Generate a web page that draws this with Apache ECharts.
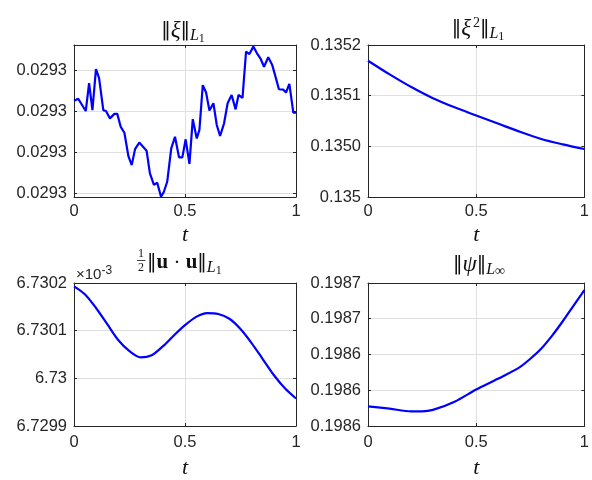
<!DOCTYPE html>
<html><head><meta charset="utf-8">
<script src="https://cdn.jsdelivr.net/npm/echarts@6/dist/echarts.min.js"></script>
<style>html,body{margin:0;padding:0;background:#fff}#c{width:592px;height:480px}</style>
</head><body><div id="c"></div>
<script>
// ---- data ----
const xiT = [0,0.019,0.053,0.068,0.083,0.099,0.113,0.132,0.144,0.162,0.182,0.195,0.21,0.227,0.245,0.26,0.275,0.294,0.327,0.342,0.36,0.375,0.392,0.405,0.42,0.438,0.455,0.473,0.488,0.503,0.52,0.535,0.553,0.565,0.58,0.595,0.61,0.628,0.643,0.658,0.676,0.692,0.71,0.728,0.741,0.759,0.775,0.79,0.808,0.823,0.84,0.856,0.875,0.893,0.907,0.923,0.943,0.955,0.97,0.988,1.0];
const xiV = [0.02930225,0.0293023,0.029302,0.02930268,0.02930202,0.02930302,0.0293028,0.02930202,0.029302,0.02930182,0.02930193,0.02930193,0.02930162,0.02930147,0.0293009,0.02930068,0.02930107,0.02930123,0.02930103,0.02930048,0.0293002,0.02930025,0.02929991,0.02930003,0.02930028,0.02930109,0.02930137,0.02930087,0.02930087,0.02930131,0.02930071,0.0293018,0.02930133,0.02930154,0.02930263,0.02930245,0.02930201,0.02930219,0.02930166,0.02930139,0.0293017,0.02930219,0.02930239,0.02930204,0.02930239,0.02930232,0.02930345,0.02930339,0.02930357,0.02930342,0.02930328,0.02930308,0.02930331,0.02930312,0.02930285,0.02930253,0.02930252,0.02930245,0.02930266,0.02930196,0.02930196];

const xi2T = [0,0.1,0.2,0.3,0.4,0.5,0.6,0.7,0.8,0.9,1];
const xi2V = [0.1351345,0.1351210,0.1351085,0.1350975,0.1350885,0.1350805,0.1350725,0.1350645,0.1350573,0.1350520,0.1350474];

const uuT = [0,0.05,0.1,0.15,0.2,0.25,0.3,0.35,0.4,0.45,0.5,0.55,0.6,0.65,0.7,0.75,0.8,0.85,0.9,0.95,1];
const uuV = [6.730193,6.730176,6.730147,6.7301135,6.73008,6.730057,6.730044,6.7300485,6.730067,6.73009,6.7301115,6.730129,6.730137,6.730135,6.730125,6.7301035,6.730074,6.7300405,6.730007,6.729979,6.7299577];

const psiT = [0,0.1,0.2,0.25,0.3,0.4,0.5,0.6,0.7,0.75,0.8,0.85,0.9,0.95,1];
const psiV = [0.198611,0.1986097,0.1986082,0.1986082,0.198609,0.1986136,0.1986204,0.1986264,0.1986328,0.1986376,0.1986432,0.1986504,0.1986586,0.1986674,0.198676];

const xTicks = [0,0.5,1];
const xTickLabels = ['0','0.5','1'];
const xiTicks = [0.0293,0.029301,0.029302,0.029303];
const xiTickLabels = ['0.0293','0.0293','0.0293','0.0293'];
const xi2Ticks = [0.135,0.13505,0.1351,0.13515];
const xi2TickLabels = ['0.135','0.1350','0.1351','0.1352'];
const uuTicks = [6.7299,6.73,6.7301,6.7302];
const uuTickLabels = ['6.7299','6.73','6.7301','6.7302'];
const psiTicks = [0.1986,0.19862,0.19864,0.19866,0.19868];
const psiTickLabels = ['0.1986','0.1986','0.1986','0.1987','0.1987'];

// ---- layout / style ----
const AX = '#262626', GRID = '#dfdfdf';
const sans = "'Liberation Sans', Arial, sans-serif";
const serif = "'Liberation Serif', 'DejaVu Serif', serif";
const grids = [
  {left:74, top:45, width:222, height:152},
  {left:368, top:45, width:222, height:152},
  {left:74, top:283, width:222, height:151},
  {left:368, top:283, width:222, height:151}
];
const panels = [
  {t:xiT, v:xiV, ticks:xiTicks, labels:xiTickLabels, min:0.0292999024, max:0.02930361, smooth:false},
  {t:xi2T, v:xi2V, ticks:xi2Ticks, labels:xi2TickLabels, min:0.135, max:0.13515, smooth:true},
  {t:uuT, v:uuV, ticks:uuTicks, labels:uuTickLabels, min:6.7299, max:6.7302, smooth:true},
  {t:psiT, v:psiV, ticks:psiTicks, labels:psiTickLabels, min:0.1986, max:0.19868, smooth:true}
];
function lookup(ticks, labels){
  return function(val){
    let bi=0, bd=Infinity;
    ticks.forEach((tk,i)=>{const d=Math.abs(tk-val); if(d<bd){bd=d;bi=i;}});
    return labels[bi];
  };
}
const xAxis=[], yAxis=[], series=[];
panels.forEach((p,i)=>{
  const lower = i>=2;
  const tickStyle = {show:true, inside:true, length:3, lineStyle:{color:AX, width:1}};
  xAxis.push({type:'value', gridIndex:i, min:0, max:1, position:'bottom',
    axisLine:{show:true, onZero:false, lineStyle:{color:AX, width:1}},
    axisTick:Object.assign({customValues:xTicks}, tickStyle),
    axisLabel:{customValues:xTicks, formatter:lookup(xTicks,xTickLabels), color:AX, fontSize:16.5, fontFamily:sans, margin:lower?8:6},
    splitLine:{show:true, lineStyle:{color:GRID, width:1}},
    name:'t', nameLocation:'middle', nameGap:lower?31:27,
    nameTextStyle:{fontFamily:serif, fontStyle:'italic', fontSize:22, color:'#111'}
  });
  xAxis.push({type:'value', gridIndex:i, min:0, max:1, position:'top',
    axisLine:{show:true, onZero:false, lineStyle:{color:AX, width:1}},
    axisTick:Object.assign({customValues:xTicks}, tickStyle),
    axisLabel:{show:false}, splitLine:{show:false}
  });
  yAxis.push({type:'value', gridIndex:i, min:p.min, max:p.max, position:'left',
    axisLine:{show:true, onZero:false, lineStyle:{color:AX, width:1}},
    axisTick:Object.assign({customValues:p.ticks}, tickStyle),
    axisLabel:{customValues:p.ticks, formatter:lookup(p.ticks,p.labels), color:AX, fontSize:16.5, fontFamily:sans, margin:7},
    splitLine:{show:true, lineStyle:{color:GRID, width:1}}
  });
  yAxis.push({type:'value', gridIndex:i, min:p.min, max:p.max, position:'right',
    axisLine:{show:true, onZero:false, lineStyle:{color:AX, width:1}},
    axisTick:Object.assign({customValues:p.ticks}, tickStyle),
    axisLabel:{show:false}, splitLine:{show:false}
  });
  series.push({type:'line', xAxisIndex:2*i, yAxisIndex:2*i,
    data:p.t.map((t,k)=>[t,p.v[k]]), showSymbol:false, smooth:p.smooth?0.3:false,
    lineStyle:{color:'#0000ff', width:2.2}, itemStyle:{color:'#0000ff'}, clip:false, z:5});
});

const rich = {
  b:{fontFamily:"'DejaVu Sans', sans-serif", fontSize:19, fill:'#111'},
  i:{fontFamily:serif, fontStyle:'italic', fontSize:23, fill:'#111'},
  u:{fontFamily:serif, fontWeight:'bold', fontSize:21, fill:'#111'},
  d:{fontFamily:serif, fontSize:21, fill:'#111'},
  sup:{fontFamily:serif, fontSize:14, fill:'#111', padding:[0,0,12,2]},
  si:{fontFamily:serif, fontStyle:'italic', fontSize:16, fill:'#111', padding:[9,0,0,0]},
  ss:{fontFamily:serif, fontSize:12, fill:'#111', padding:[15,0,0,0]},
  sinf:{fontFamily:serif, fontSize:14, fill:'#111', padding:[13,0,0,0]}
};
const graphic = [
  {type:'text', x:183, y:31, style:{text:'{b|‖}{i|ξ}{b|‖}{si|L}{ss|1}', rich:rich, align:'center', verticalAlign:'middle'}},
  {type:'text', x:478, y:29, style:{text:'{b|‖}{i|ξ}{sup|2}{b|‖}{si|L}{ss|1}', rich:rich, align:'center', verticalAlign:'middle'}},
  {type:'text', x:141, y:254, style:{text:'1', fontFamily:serif, fontSize:12, fill:'#111', align:'center', verticalAlign:'middle'}},
  {type:'line', shape:{x1:137, y1:260.5, x2:145.5, y2:260.5}, style:{stroke:'#111', lineWidth:0.8}},
  {type:'text', x:141, y:267.5, style:{text:'2', fontFamily:serif, fontSize:12, fill:'#111', align:'center', verticalAlign:'middle'}},
  {type:'text', x:147, y:263, style:{text:'{b|‖}{u|u}{d| · }{u|u}{b|‖}{si|L}{ss|1}', rich:rich, align:'left', verticalAlign:'middle'}},
  {type:'text', x:479, y:265, style:{text:'{b|‖}{i|ψ}{b|‖}{si|L}{sinf|∞}', rich:rich, align:'center', verticalAlign:'middle'}},
  {type:'text', x:76, y:275, style:{text:'{a|×10}{e|-3}', rich:{a:{fontFamily:sans, fontSize:15, fill:AX}, e:{fontFamily:sans, fontSize:12, fill:AX, padding:[0,0,9,0]}}, align:'left', verticalAlign:'middle'}}
];

const chart = echarts.init(document.getElementById('c'), null, {renderer:'canvas'});
chart.setOption({animation:false, backgroundColor:'#fff', grid:grids, xAxis:xAxis, yAxis:yAxis, series:series, graphic:graphic});
</script></body></html>
